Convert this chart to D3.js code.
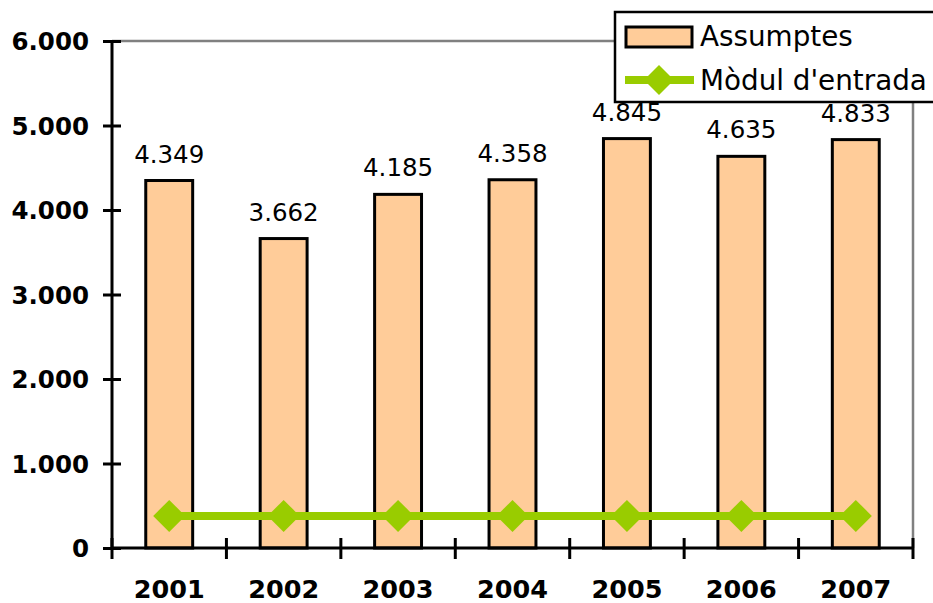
<!DOCTYPE html>
<html><head><meta charset="utf-8">
<script src="https://cdn.jsdelivr.net/npm/d3@7"></script>
<style>body{margin:0;background:#fff}svg{display:block}</style>
</head><body>
<svg id="c" width="933" height="603"></svg>
<script>
const categories = ["2001","2002","2003","2004","2005","2006","2007"];
const assumptes = [4349, 3662, 4185, 4358, 4845, 4635, 4833];
const modulEntrada = [380, 380, 380, 380, 380, 380, 380];
const yTicks = [0, 1000, 2000, 3000, 4000, 5000, 6000];
const seriesNames = ["Assumptes", "Mòdul d'entrada"];

const loc = d3.formatLocale({decimal:",", thousands:".", grouping:[3], currency:["",""]});
const fmt = loc.format(",d");

const svg = d3.select("#c");
const L = 112, R = 913, T = 41, B = 548;
const x = d3.scaleBand().domain(categories).range([L, R]).padding(0);
const y = d3.scaleLinear().domain([0, 6000]).range([B, T]);
const barW = x.bandwidth() * 0.41;
const font = "'DejaVu Sans', Verdana, sans-serif";

// plot border (top & right, gray)
svg.append("path").attr("d", `M${L},${T}H${R}V${B}`).attr("fill","none").attr("stroke","#808080").attr("stroke-width",2.5);

// bars
svg.append("g").selectAll("rect").data(assumptes).join("rect")
  .attr("x", (d,i) => x(categories[i]) + x.bandwidth()/2 - barW/2)
  .attr("y", d => y(d)).attr("width", barW).attr("height", d => B - y(d))
  .attr("fill", "#ffcc99").attr("stroke", "#000").attr("stroke-width", 3);

// value labels
svg.append("g").selectAll("text").data(assumptes).join("text")
  .attr("x", (d,i) => x(categories[i]) + x.bandwidth()/2)
  .attr("y", d => y(d) - 18).attr("text-anchor","middle")
  .attr("font-family", font).attr("font-size", 24.5).attr("fill","#000")
  .text(d => fmt(d));

// line series
const line = d3.line().x((d,i) => x(categories[i]) + x.bandwidth()/2).y(d => y(d));
svg.append("path").datum(modulEntrada).attr("d", line).attr("fill","none").attr("stroke","#99cc00").attr("stroke-width",8);
const diamond = s => `M0,${-s}L${s},0L0,${s}L${-s},0Z`;
svg.append("g").selectAll("path").data(modulEntrada).join("path")
  .attr("transform", (d,i) => `translate(${x(categories[i]) + x.bandwidth()/2},${y(d)})`)
  .attr("d", diamond(16)).attr("fill","#99cc00");

// y axis
const yAxis = svg.append("g").attr("transform", `translate(${L},0)`)
  .call(d3.axisLeft(y).tickValues(yTicks).tickSize(9).tickPadding(14).tickFormat(d => fmt(d)));
yAxis.select(".domain").attr("stroke","#000").attr("stroke-width",3).attr("d", `M0,${B}V${T}`);
yAxis.selectAll(".tick line").attr("x1", 9).attr("stroke","#000").attr("stroke-width",3);
yAxis.selectAll(".tick text").attr("font-family", font).attr("font-size", 24.5).attr("font-weight","bold").attr("fill","#000").attr("dy","0.36em");

// x axis
const xAxis = svg.append("g").attr("transform", `translate(0,${B})`)
  .call(d3.axisBottom(x).tickSize(0).tickPadding(0));
xAxis.select(".domain").attr("stroke","#000").attr("stroke-width",3).attr("d", `M${L},0H${R}`);
xAxis.selectAll(".tick text").attr("font-family", font).attr("font-size", 25.5).attr("font-weight","bold").attr("fill","#000").attr("dy", 0).attr("y", 50);
const bounds = categories.map(c => x(c)).concat([R]);
xAxis.append("g").selectAll("line").data(bounds).join("line")
  .attr("x1", d => d).attr("x2", d => d).attr("y1", -10).attr("y2", 11)
  .attr("stroke","#000").attr("stroke-width",3);

// legend
const lg = svg.append("g");
lg.append("rect").attr("x",615).attr("y",12).attr("width",340).attr("height",90)
  .attr("fill","#fff").attr("stroke","#000").attr("stroke-width",2.5);
lg.append("rect").attr("x",626).attr("y",27).attr("width",66).attr("height",20)
  .attr("fill","#ffcc99").attr("stroke","#000").attr("stroke-width",3);
lg.append("line").attr("x1",625).attr("x2",694).attr("y1",80).attr("y2",80).attr("stroke","#99cc00").attr("stroke-width",8);
lg.append("path").attr("transform","translate(659,80)").attr("d", diamond(15)).attr("fill","#99cc00");
lg.selectAll("text").data(seriesNames).join("text")
  .attr("x",700).attr("y",(d,i) => 46 + i*44)
  .attr("font-family", font).attr("font-size", 27.8).attr("fill","#000").text(d => d);
</script>
</body></html>
